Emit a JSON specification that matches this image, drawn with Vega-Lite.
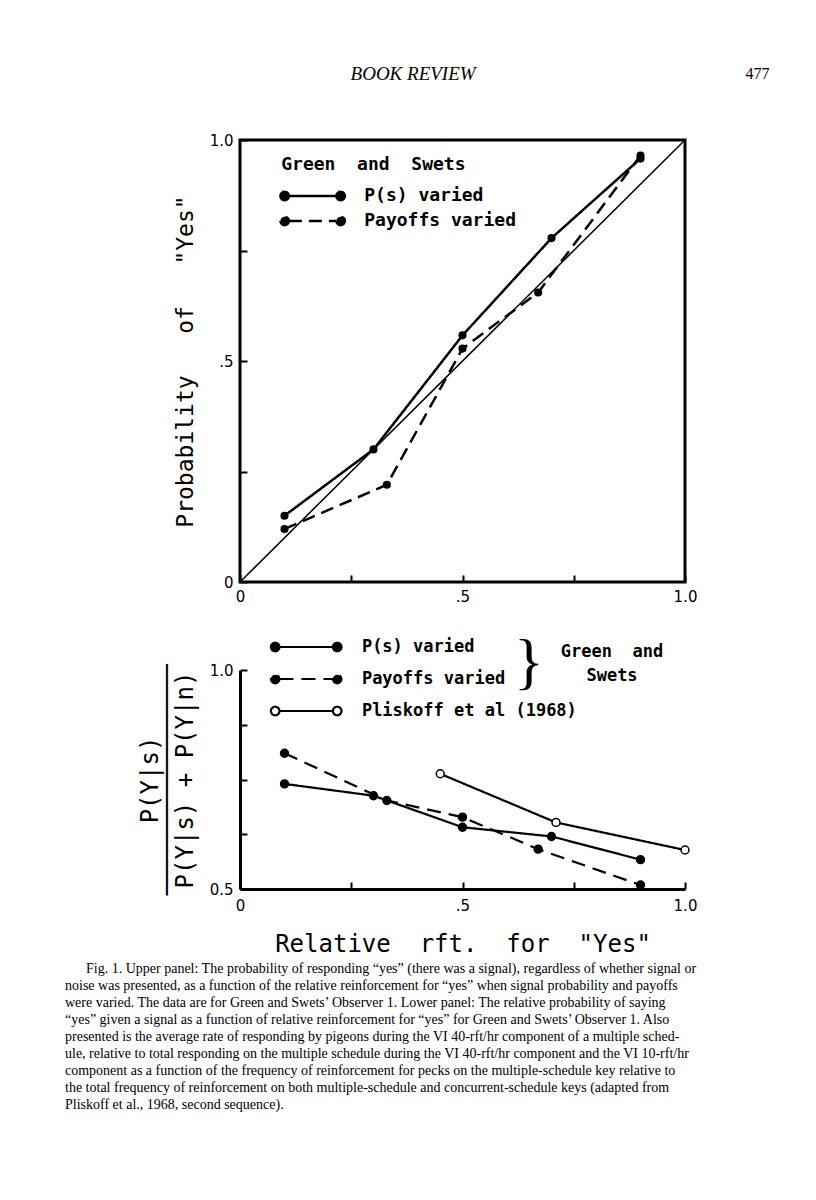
{
  "$schema": "https://vega.github.io/schema/vega-lite/v6.json",
  "background": "white",
  "padding": {"left": 65, "top": 63, "right": 5, "bottom": 5},
  "bounds": "flush",
  "spacing": 88,
  "resolve": {
    "scale": {"strokeDash": "independent", "fill": "independent"},
    "legend": {"strokeDash": "independent", "fill": "independent"}
  },
  "datasets": {
    "upper": [
      {"series": "P(s) varied", "x": 0.1, "y": 0.15},
      {"series": "P(s) varied", "x": 0.3, "y": 0.3},
      {"series": "P(s) varied", "x": 0.5, "y": 0.558},
      {"series": "P(s) varied", "x": 0.7, "y": 0.778},
      {"series": "P(s) varied", "x": 0.9, "y": 0.958},
      {"series": "Payoffs varied", "x": 0.1, "y": 0.12},
      {"series": "Payoffs varied", "x": 0.33, "y": 0.22},
      {"series": "Payoffs varied", "x": 0.5, "y": 0.528},
      {"series": "Payoffs varied", "x": 0.67, "y": 0.655},
      {"series": "Payoffs varied", "x": 0.9, "y": 0.965}
    ],
    "diag": [{"x": 0, "y": 0}, {"x": 1, "y": 1}],
    "lower": [
      {"series": "P(s) varied", "x": 0.1, "y": 0.74},
      {"series": "P(s) varied", "x": 0.3, "y": 0.713},
      {"series": "P(s) varied", "x": 0.5, "y": 0.641},
      {"series": "P(s) varied", "x": 0.7, "y": 0.62},
      {"series": "P(s) varied", "x": 0.9, "y": 0.567},
      {"series": "Payoffs varied", "x": 0.1, "y": 0.81},
      {"series": "Payoffs varied", "x": 0.33, "y": 0.702},
      {"series": "Payoffs varied", "x": 0.5, "y": 0.664},
      {"series": "Payoffs varied", "x": 0.67, "y": 0.591},
      {"series": "Payoffs varied", "x": 0.9, "y": 0.509},
      {"series": "Pliskoff et al (1968)", "x": 0.45, "y": 0.763},
      {"series": "Pliskoff et al (1968)", "x": 0.71, "y": 0.652},
      {"series": "Pliskoff et al (1968)", "x": 1.0, "y": 0.589}
    ]
  },
  "vconcat": [
    {
      "width": 445,
      "height": 442,
      "view": {"stroke": "black", "strokeWidth": 3},
      "layer": [
        {
          "encoding": {
            "x": {
              "field": "x", "type": "quantitative",
              "scale": {"domain": [0, 1], "nice": false, "zero": false},
              "axis": {
                "values": [0, 0.25, 0.5, 0.75, 1],
                "labelExpr": "datum.value == 0 ? '0' : datum.value == 0.5 ? '.5' : datum.value == 1 ? '1.0' : ''",
                "domain": false, "grid": false, "tickSize": -7, "tickWidth": 2, "tickColor": "black",
                "labelFlush": false, "labelOverlap": false, "labelFont": "DejaVu Sans", "labelFontSize": 15,
                "labelColor": "black", "labelPadding": 14, "title": null
              }
            },
            "y": {
              "field": "y", "type": "quantitative",
              "scale": {"domain": [0, 1], "nice": false, "zero": false},
              "axis": {
                "values": [0, 0.25, 0.5, 0.75, 1],
                "labelExpr": "datum.value == 0 ? '0' : datum.value == 0.5 ? '.5' : datum.value == 1 ? '1.0' : ''",
                "domain": false, "grid": false, "tickSize": -7, "tickWidth": 2, "tickColor": "black",
                "labelFlush": false, "labelOverlap": false, "labelFont": "DejaVu Sans", "labelFontSize": 15,
                "labelColor": "black", "labelPadding": 14,
                "title": "Probability\u00a0\u00a0\u00a0of\u00a0\u00a0\u00a0\"Yes\"",
                "titleFont": "DejaVu Sans Mono", "titleFontSize": 23, "titleFontWeight": "normal",
                "titleColor": "black", "titlePadding": 12
              }
            }
          },
          "layer": [
            {
              "data": {"name": "diag"},
              "mark": {"type": "line", "color": "black", "strokeWidth": 1.5}
            },
            {
              "data": {"name": "upper"},
              "mark": {"type": "line", "color": "black", "strokeWidth": 2.5},
              "encoding": {
                "strokeDash": {
                  "field": "series", "type": "nominal",
                  "scale": {"domain": ["P(s) varied", "Payoffs varied"], "range": [[1, 0], [13, 7]]},
                  "legend": {
                    "orient": "none", "legendX": 41.25, "legendY": 16, "padding": 0,
                    "title": "Green\u00a0\u00a0and\u00a0\u00a0Swets", "titleLimit": 400,
                    "titleFont": "DejaVu Sans Mono", "titleFontSize": 18, "titleFontWeight": "bold",
                    "titleColor": "black", "titlePadding": 13,
                    "labelFont": "DejaVu Sans Mono", "labelFontSize": 18, "labelFontWeight": "bold", "labelColor": "black",
                    "labelLimit": 400, "labelOffset": 65, "rowPadding": 5,
                    "symbolType": "M-0.25,0L8.25,0M-0.25,0A0.75,0.75,0,1,1,-1.75,0A0.75,0.75,0,1,1,-0.25,0ZM9.75,0A0.75,0.75,0,1,1,8.25,0A0.75,0.75,0,1,1,9.75,0Z",
                    "symbolSize": 125.44, "symbolStrokeWidth": 2.5, "symbolFillColor": "black", "symbolStrokeColor": "black",
                    "encode": {
                      "symbols": {
                        "update": {
                          "fill": {"signal": "datum.value === 'zzz' ? 'white' : 'black'"},
                          "fillOpacity": {"value": 1},
                          "stroke": {"signal": "'black'"},
                          "strokeDash": {"signal": "datum.value === 'Payoffs varied' ? [9, 5] : [1, 0]"}
                        }
                      }
                    }
                  }
                }
              }
            },
            {
              "data": {"name": "upper"},
              "mark": {"type": "circle", "size": 66, "opacity": 1},
              "encoding": {
                "fill": {
                  "field": "series", "type": "nominal",
                  "scale": {"domain": ["P(s) varied", "Payoffs varied"], "range": ["black", "black"]},
                  "legend": null
                }
              }
            }
          ]
        },
        {
          "data": {"values": [{"label": "BOOK REVIEW"}]},
          "mark": {"type": "text", "font": "Liberation Serif", "fontStyle": "italic", "fontSize": 19, "fill": "black"},
          "encoding": {
            "x": {"datum": 0.389, "type": "quantitative"},
            "y": {"datum": 1.149, "type": "quantitative"},
            "text": {"field": "label", "type": "nominal"}
          }
        },
        {
          "data": {"values": [{"label": "477"}]},
          "mark": {"type": "text", "font": "Liberation Serif", "fontSize": 16, "fill": "black"},
          "encoding": {
            "x": {"datum": 1.163, "type": "quantitative"},
            "y": {"datum": 1.149, "type": "quantitative"},
            "text": {"field": "label", "type": "nominal"}
          }
        }
      ]
    },
    {
      "width": 445,
      "height": 219,
      "view": {"stroke": null},
      "title": {
        "text": [
          "\u200b\u2002\u2002\u2002Fig. 1. Upper panel: The probability of responding “yes” (there was a signal), regardless of whether signal or",
          "noise was presented, as a function of the relative reinforcement for “yes” when signal probability and payoffs",
          "were varied. The data are for Green and Swets’ Observer 1. Lower panel: The relative probability of saying",
          "“yes” given a signal as a function of relative reinforcement for “yes” for Green and Swets’ Observer 1. Also",
          "presented is the average rate of responding by pigeons during the VI 40-rft/hr component of a multiple sched-",
          "ule, relative to total responding on the multiple schedule during the VI 40-rft/hr component and the VI 10-rft/hr",
          "component as a function of the frequency of reinforcement for pecks on the multiple-schedule key relative to",
          "the total frequency of reinforcement on both multiple-schedule and concurrent-schedule keys (adapted from",
          "Pliskoff et al., 1968, second sequence)."
        ],
        "orient": "bottom", "anchor": "start", "frame": "group", "align": "left", "baseline": "top",
        "dx": -175, "offset": 6,
        "font": "Liberation Serif", "fontSize": 14, "fontWeight": "normal", "lineHeight": 17, "color": "black"
      },
      "layer": [
        {
          "encoding": {
            "x": {
              "field": "x", "type": "quantitative",
              "scale": {"domain": [0, 1], "nice": false, "zero": false},
              "axis": {
                "values": [0, 0.25, 0.5, 0.75, 1],
                "labelExpr": "datum.value == 0 ? '0' : datum.value == 0.5 ? '.5' : datum.value == 1 ? '1.0' : ''",
                "domain": true, "domainColor": "black", "domainWidth": 3, "grid": false,
                "tickSize": -7, "tickWidth": 2, "tickColor": "black",
                "labelFlush": false, "labelOverlap": false, "labelFont": "DejaVu Sans", "labelFontSize": 15,
                "labelColor": "black", "labelPadding": 16,
                "title": "Relative\u00a0\u00a0rft.\u00a0\u00a0for\u00a0\u00a0\"Yes\"",
                "titleFont": "DejaVu Sans Mono", "titleFontSize": 24, "titleFontWeight": "normal",
                "titleColor": "black", "titlePadding": 19
              }
            },
            "y": {
              "field": "y", "type": "quantitative",
              "scale": {"domain": [0.5, 1], "nice": false, "zero": false},
              "axis": {
                "values": [0.5, 0.625, 0.75, 0.875, 1],
                "labelExpr": "datum.value == 1 ? '1.0' : datum.value == 0.5 ? '0.5' : ''",
                "domain": true, "domainColor": "black", "domainWidth": 3, "grid": false,
                "tickSize": -7, "tickWidth": 2, "tickColor": "black",
                "labelFlush": false, "labelOverlap": false, "labelFont": "DejaVu Sans", "labelFontSize": 15,
                "labelColor": "black", "labelPadding": 14,
                "title": ["P(Y|s)", "────────────────", "P(Y|s) + P(Y|n)"],
                "titleFont": "DejaVu Sans Mono", "titleFontSize": 24, "titleFontWeight": "normal",
                "titleColor": "black", "titlePadding": 12, "titleLineHeight": 17.5
              }
            }
          },
          "layer": [
            {
              "data": {"name": "lower"},
              "mark": {"type": "line", "color": "black", "strokeWidth": 2.2},
              "encoding": {
                "strokeDash": {
                  "field": "series", "type": "nominal",
                  "scale": {"domain": ["P(s) varied", "Payoffs varied", "Pliskoff et al (1968)"], "range": [[1, 0], [14, 8], [1, 0]]},
                  "legend": {
                    "orient": "none", "legendX": 32.9, "legendY": -31.5, "padding": 0, "title": null,
                    "labelFont": "DejaVu Sans Mono", "labelFontSize": 17, "labelFontWeight": "bold", "labelColor": "black",
                    "labelLimit": 400, "labelOffset": 72, "rowPadding": 13,
                    "symbolType": "M-0.31,0L8.31,0M-0.31,0A0.69,0.69,0,1,1,-1.69,0A0.69,0.69,0,1,1,-0.31,0ZM9.69,0A0.69,0.69,0,1,1,8.31,0A0.69,0.69,0,1,1,9.69,0Z",
                    "symbolSize": 153.76, "symbolStrokeWidth": 2.2,
                    "encode": {
                      "symbols": {
                        "update": {
                          "fill": {"signal": "datum.value === 'Pliskoff et al (1968)' ? 'white' : 'black'"},
                          "fillOpacity": {"value": 1},
                          "stroke": {"signal": "'black'"},
                          "strokeDash": {"signal": "datum.value === 'Payoffs varied' ? [8, 5] : [1, 0]"}
                        }
                      }
                    }
                  }
                }
              }
            },
            {
              "data": {"name": "lower"},
              "mark": {"type": "circle", "size": 62, "opacity": 1, "stroke": "black", "strokeWidth": 1.5},
              "encoding": {
                "fill": {
                  "field": "series", "type": "nominal",
                  "scale": {"domain": ["P(s) varied", "Payoffs varied", "Pliskoff et al (1968)"], "range": ["black", "black", "white"]},
                  "legend": null
                }
              }
            }
          ]
        },
        {
          "data": {"values": [{"label": "}"}]},
          "mark": {"type": "text", "font": "Liberation Serif", "fontSize": 62, "fill": "black", "baseline": "middle"},
          "encoding": {
            "x": {"datum": 0.649, "type": "quantitative"},
            "y": {"datum": 1.016, "type": "quantitative"},
            "text": {"field": "label", "type": "nominal"}
          }
        },
        {
          "data": {"values": [{"label": "Green\u00a0\u00a0and\nSwets"}]},
          "mark": {"type": "text", "font": "DejaVu Sans Mono", "fontSize": 17, "fontWeight": "bold", "fill": "black", "baseline": "middle", "lineBreak": "\n", "lineHeight": 24},
          "encoding": {
            "x": {"datum": 0.836, "type": "quantitative"},
            "y": {"datum": 1.041, "type": "quantitative"},
            "text": {"field": "label", "type": "nominal"}
          }
        }
      ]
    }
  ],
  "config": {
    "view": {"stroke": null},
    "axis": {"grid": false}
  }
}
